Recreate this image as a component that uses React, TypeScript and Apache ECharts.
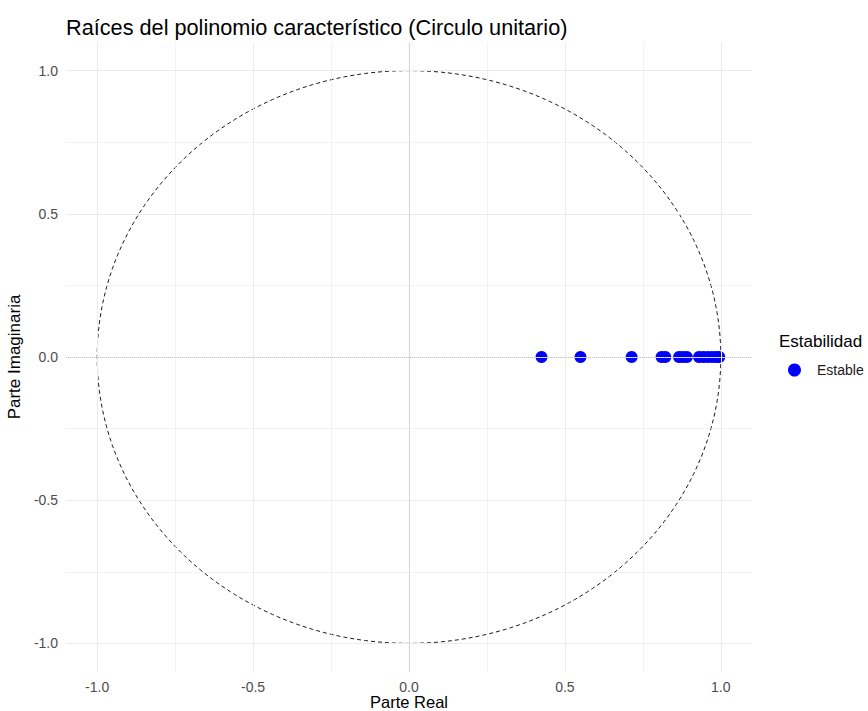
import React, { useEffect, useRef } from "react";
import * as echarts from "echarts";

const rootsReal = [0.425, 0.55, 0.714, 0.81, 0.822, 0.866, 0.878, 0.891, 0.93, 0.944, 0.958, 0.972, 0.985, 0.995];
const rootsImag = [0, 0, 0, 0, 0, 0, 0, 0, 0, 0, 0, 0, 0, 0];
const majorTicks = [-1, -0.5, 0, 0.5, 1];
const minorTicks = [-0.75, -0.25, 0.25, 0.75];
const circleSteps = 360;

export default function App() {
  const ref = useRef<HTMLDivElement>(null);
  useEffect(() => {
    if (!ref.current) return;
    const chart = echarts.init(ref.current, null, { renderer: "svg" });
    const circle: number[][] = [];
    for (let i = 0; i <= circleSteps; i++) {
      const a = (i / circleSteps) * 2 * Math.PI;
      circle.push([Math.cos(a), Math.sin(a)]);
    }
    const font = "Liberation Sans, Arial, sans-serif";
    const gridMajor = { color: "#ebebeb", width: 1.1, type: "solid" as const };
    const gridMinor = { color: "#ebebeb", width: 0.6, type: "solid" as const };
    const markData: any[] = [];
    majorTicks.forEach((v) => {
      markData.push({ xAxis: v, lineStyle: gridMajor });
      markData.push({ yAxis: v, lineStyle: gridMajor });
    });
    minorTicks.forEach((v) => {
      markData.push({ xAxis: v, lineStyle: gridMinor });
      markData.push({ yAxis: v, lineStyle: gridMinor });
    });
    const zeroLine = { color: "#c4c4c4", width: 1, type: "dotted" as const };
    chart.setOption({
      animation: false,
      backgroundColor: "#ffffff",
      title: [
        {
          text: "Raíces del polinomio característico (Circulo unitario)",
          left: 61,
          top: 11,
          textStyle: { fontFamily: font, fontSize: 21.7, fontWeight: "normal", color: "#000000" },
        },
        {
          text: "Estabilidad",
          left: 774,
          top: 328,
          textStyle: { fontFamily: font, fontSize: 17, fontWeight: "normal", color: "#000000" },
        },
      ],
      legend: {
        left: 788,
        top: 363,
        padding: 0,
        orient: "vertical",
        itemWidth: 13,
        itemHeight: 13,
        icon: "circle",
        data: ["Estable"],
        textStyle: { fontFamily: font, fontSize: 14, color: "#1a1a1a", padding: [0, 0, 0, 11] },
      },
      grid: { left: 66, top: 42, width: 686, height: 630, outerBoundsMode: "none" },
      xAxis: {
        type: "value",
        min: -1.1,
        max: 1.1,
        name: "Parte Real",
        nameLocation: "middle",
        nameGap: 22,
        nameMoveOverlap: false,
        nameTextStyle: { fontFamily: font, fontSize: 16.5, lineHeight: 15, color: "#000000" },
        axisLine: { show: false },
        axisTick: { show: false },
        splitLine: { show: false },
        axisLabel: {
          customValues: majorTicks,
          margin: 8,
          lineHeight: 14,
          fontFamily: font,
          fontSize: 14,
          color: "#4d4d4d",
          formatter: (v: number) => v.toFixed(1),
        },
      },
      yAxis: {
        type: "value",
        min: -1.1,
        max: 1.1,
        name: "Parte Imaginaria",
        nameLocation: "middle",
        nameGap: 39,
        nameTextStyle: { fontFamily: font, fontSize: 17, color: "#000000" },
        axisLine: { show: false },
        axisTick: { show: false },
        splitLine: { show: false },
        axisLabel: {
          customValues: majorTicks,
          margin: 8,
          fontFamily: font,
          fontSize: 14,
          color: "#4d4d4d",
          formatter: (v: number) => v.toFixed(1),
        },
      },
      series: [
        {
          name: "grid",
          type: "line",
          data: [],
          silent: true,
          markLine: { silent: true, symbol: "none", label: { show: false }, data: markData },
        },
        {
          name: "zero",
          type: "line",
          data: [],
          silent: true,
          markLine: {
            silent: true,
            symbol: "none",
            label: { show: false },
            data: [
              { xAxis: 0, lineStyle: zeroLine },
              { yAxis: 0, lineStyle: zeroLine },
            ],
          },
        },
        {
          name: "circle",
          type: "line",
          data: circle,
          showSymbol: false,
          symbol: "none",
          silent: true,
          lineStyle: { color: "#000000", width: 0.9, type: [4, 3] },
        },
        {
          name: "Estable",
          type: "scatter",
          data: rootsReal.map((x, i) => [x, rootsImag[i]]),
          symbol: "circle",
          symbolSize: 12,
          itemStyle: { color: "#0000ff", opacity: 1 },
        },
      ],
    });
    return () => chart.dispose();
  }, []);
  return <div ref={ref} style={{ width: 868, height: 711, position: "absolute", left: 0, top: 0 }} />;
}
